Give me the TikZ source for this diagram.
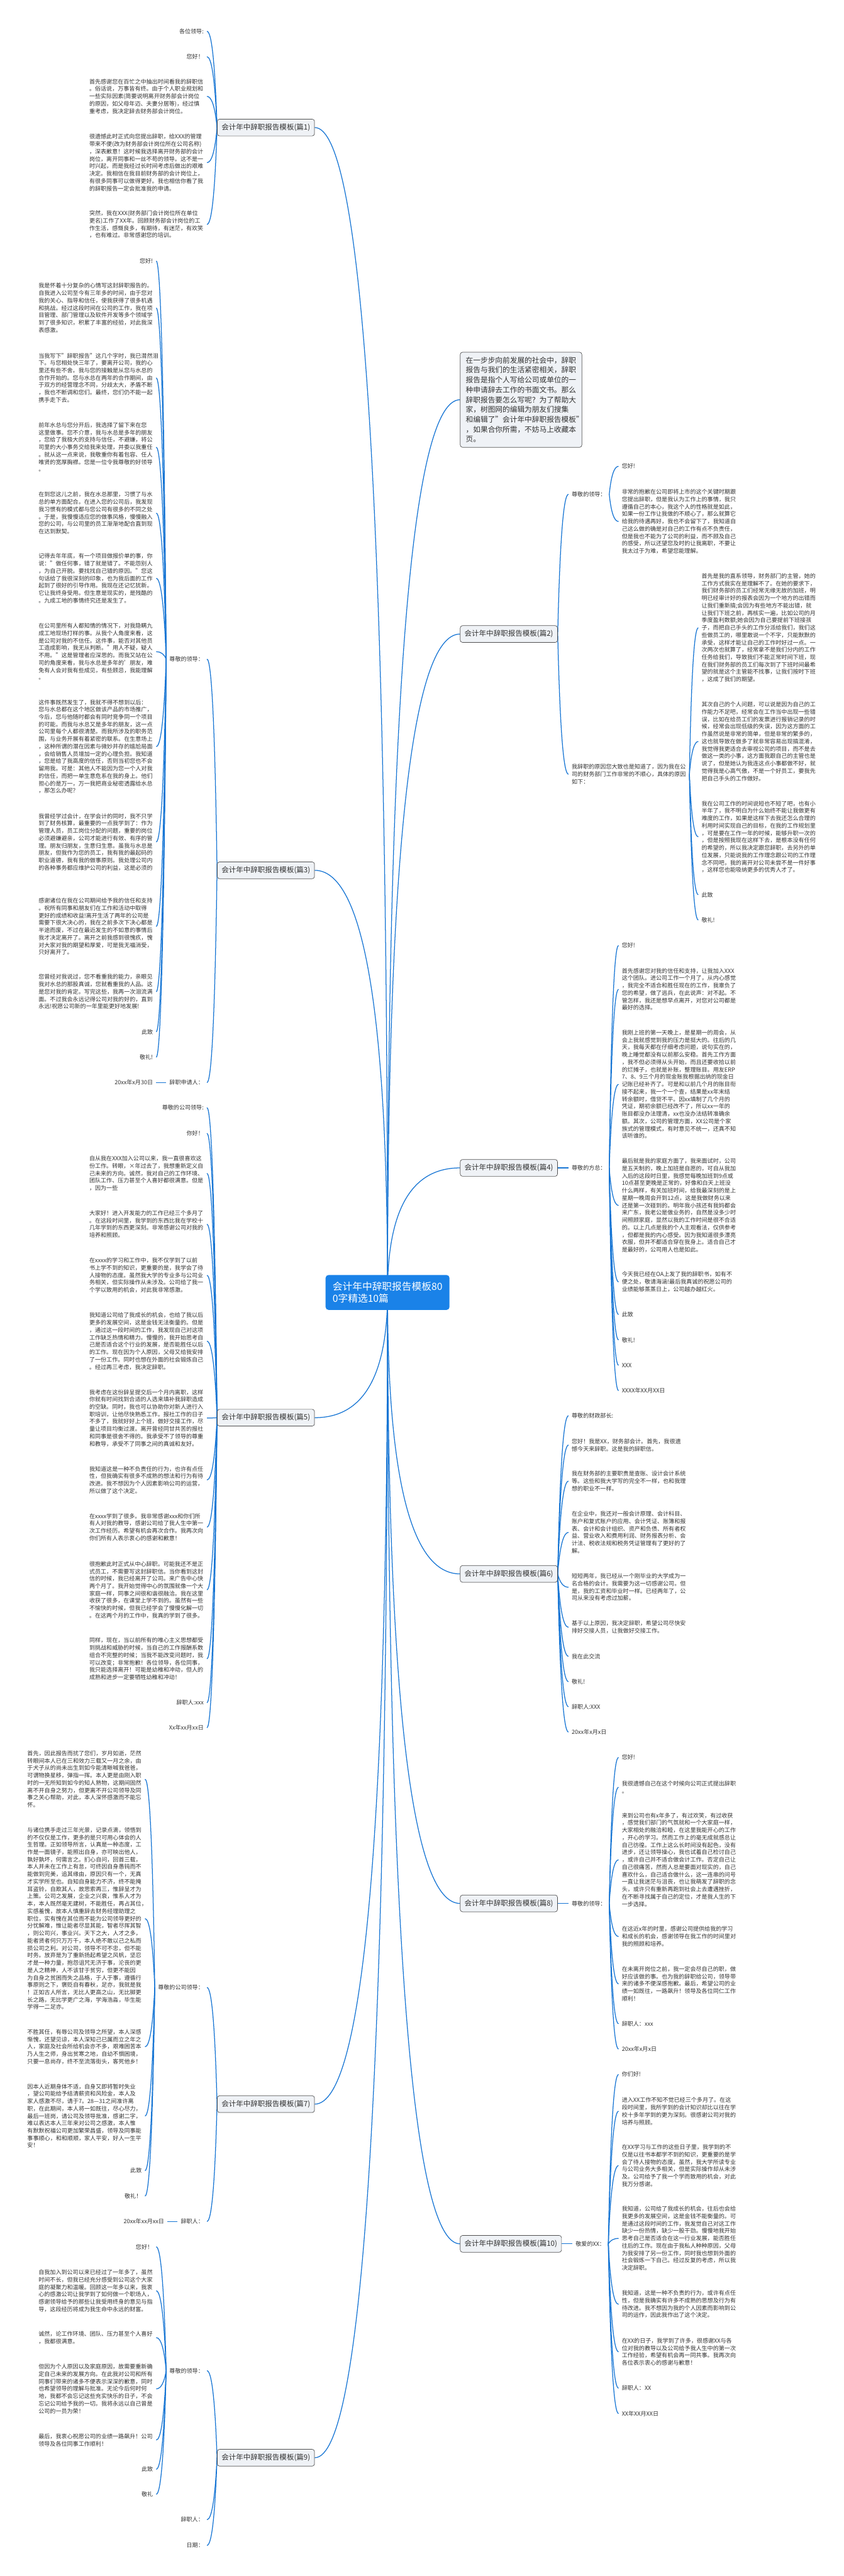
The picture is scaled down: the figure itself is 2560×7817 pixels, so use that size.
\documentclass[tikz,border=0pt]{standalone}
\usepackage{fontspec}
\setmainfont{Noto Sans CJK SC}
\usetikzlibrary{calc}
\definecolor{linkblue}{RGB}{22,117,212}
\definecolor{rootblue}{RGB}{26,130,232}
\definecolor{boxfill}{RGB}{239,242,246}
\definecolor{boxline}{RGB}{80,80,80}
\definecolor{txt}{RGB}{50,50,50}
\pgfdeclarelayer{paper}
\pgfdeclarelayer{links}
\pgfsetlayers{paper,links,main}
\newcommand\qlk[2]{\draw[conn] (#1) .. controls ($(#1)!0.667!(#1 |- #2)$) and ($(#2)!0.667!(#1 |- #2)$) .. (#2);}
\newcommand\flk[2]{\draw[conn] (#1) .. controls ($(#1)!0.667!($(#1 |- #2)!0.3!(#2)$)$) and ($(#2)!0.667!($(#1 |- #2)!0.3!(#2)$)$) .. (#2);}
\tikzset{
 conn/.style={draw=linkblue, line width=2.4pt},
 ptxt/.style={font=\fontsize{17.3}{22.4}\selectfont, text=txt, inner sep=0pt, outer xsep=10pt, outer ysep=0pt},
 lp/.style={ptxt, anchor=east, text width=347pt, align=left},
 ll/.style={ptxt, anchor=east},
 rp/.style={ptxt, anchor=west, text width=347pt, align=left},
 rl/.style={ptxt, anchor=west},
 branch/.style={draw=boxline, fill=boxfill, rounded corners=7pt, line width=1.3pt, font=\fontsize{22}{26}\selectfont, text=txt, inner xsep=13pt, minimum height=51pt},
 rootbox/.style={fill=rootblue, rounded corners=9pt, text=white, font=\fontsize{30}{37}\selectfont, align=left, minimum width=376pt, minimum height=106pt},
 intro/.style={draw=boxline, fill=boxfill, rounded corners=7pt, line width=1.3pt, font=\fontsize{22.3}{30}\selectfont, text=txt, text width=335pt, align=left, inner xsep=17pt, inner ysep=14pt},
}
\begin{document}
\begin{tikzpicture}[x=1pt,y=-1pt]
\useasboundingbox (0,0) rectangle (2560,7817);
\begin{pgfonlayer}{paper}\fill[white] (0,0) rectangle (2560,7817);\end{pgfonlayer}

\node[rootbox] (root) at (1176,3922) {会计年中辞职报告模板80\\0字精选10篇};

% ---------------- LEFT: 篇1
\node[branch, anchor=east] (L1) at (955,387) {会计年中辞职报告模板(篇1)};
\node[ll] (L1a) at (628,95) {各位领导:};
\node[ll] (L1b) at (628,172) {您好！};
\node[lp] (L1c) at (628,292.5) {首先感谢您在百忙之中抽出时间看我的辞职信\\。俗话说，万事皆有终。由于个人职业规划和\\一些实际因素(简要说明离开财务部会计岗位\\的原因，如父母年迈、夫妻分居等)，经过慎\\重考虑，我决定辞去财务部会计岗位。};
\node[lp] (L1d) at (628,493.5) {很遗憾此时正式向您提出辞职，给XXX的管理\\带来不便(改为财务部会计岗位所在公司名称)\\，深表歉意！这时候我选择离开财务部的会计\\岗位，离开同事和一丝不苟的领导。这不是一\\时兴起，而是我经过长时间考虑后做出的艰难\\决定。我相信在我目前财务部的会计岗位上，\\有很多同事可以做得更好。我也相信你看了我\\的辞职报告一定会批准我的申请。};
\node[lp] (L1e) at (628,681) {突然，我在XXX(财务部门会计岗位所在单位\\更名)工作了XX年。回顾财务部会计岗位的工\\作生活，感慨良多，有期待，有迷茫，有欢笑\\，也有难过。非常感谢您的培训。};

% ---------------- LEFT: 篇3
\node[branch, anchor=east] (L3) at (955,2641) {会计年中辞职报告模板(篇3)};
\node[ll] (L3a) at (628,2000) {尊敬的领导：};
\node[ll] (L3b) at (628,3285) {辞职申请人：};
\node[ll] (L3b1) at (474,3285) {20xx年x月30日};
\node[ll] (L3a1) at (474,792) {您好!};
\node[lp] (L3a2) at (474,934.5) {我是怀着十分复杂的心情写这封辞职报告的。\\自我进入公司至今有三年多的时间，由于您对\\我的关心、指导和信任，使我获得了很多机遇\\和挑战。经过这段时间在公司的工作，我在项\\目管理、部门管理以及软件开发等多个领域学\\到了很多知识，积累了丰富的经验，对此我深\\表感激。};
\node[lp] (L3a3) at (474,1146.5) {当我写下"辞职报告"这几个字时，我已潸然泪\\下。与您相处快三年了，要离开公司，我的心\\里还有些不舍。我与您的接触是从您与水总的\\合作开始的。您与水总在两年的合作期间，由\\于双方的经营理念不同，分歧太大，矛盾不断\\，我也不断调和您们。最终，您们仍不能一起\\携手走下去。};
\node[lp] (L3a4) at (474,1357) {前年水总与您分开后，我选择了留下来在您\\这里做事。您不介意，我与水总是多年的朋友\\，您给了我极大的支持与信任，不避嫌，将公\\司里的大小事务交给我来处理，并委以我重任\\。就从这一点来说，我敬重你有着包容、任人\\唯贤的宽厚胸襟。您是一位令我尊敬的好领导\\。};
\node[lp] (L3a5) at (474,1557) {在到您这儿之前，我在水总那里，习惯了与水\\总的单方面配合。在进入您的公司后，我发现\\我习惯有的模式都与您公司有很多的不同之处\\。于是，我慢慢适应您的做事风格，慢慢融入\\您的公司，与公司里的员工渐渐地配合直到现\\在达到默契。};
\node[lp] (L3a6) at (474,1755) {记得去年年底，有一个项目做报价单的事，你\\说："做任何事，错了就是错了。不能怨别人\\，为自己开脱。要找找自己错的原因。"您这\\句话给了我很深刻的印象，也为我后面的工作\\起到了很好的引导作用。我现在还记忆犹新。\\它让我终身受用。但生意是现实的，是残酷的\\。九成工地的事情终究还是发生了。};
\node[lp] (L3a7) at (474,1977.5) {在公司里所有人都知情的情况下，对我隐瞒九\\成工地现场打样的事。从我个人角度来看，这\\是公司对我的不信任。这件事，能否对其他员\\工造成影响，我无从判断。"用人不疑，疑人\\不用。"这是管理者应深思的。而我又站在公\\司的角度来看，我与水总是多年的'朋友，难\\免有人会对我有些成见，有些顾忌，我能理解\\。};
\node[lp] (L3a8) at (474,2265.5) {这件事既然发生了，我就不得不想到以后：\\您与水总都在这个地区做该产品的市场推广，\\今后，您与他随时都会有同时竞争同一个项目\\的可能。而我与水总又是多年的朋友，这一点\\公司里每个人都很清楚。而我所涉及的职务范\\围，与业务开展有着紧密的联系。在生意场上\\，这种所谓的潜在因素与微妙并存的尴尬局面\\，会给销售人员增加一定的心理负担。我知道\\，您是给了我高度的信任，否则当初您也不会\\留用我。可是：其他人不能因为您一个人对我\\的信任，而把一单生意危系在我的身上。他们\\担心的是万一，万一我把商业秘密透露给水总\\，那怎么办呢？};
\node[lp] (L3a9) at (474,2555) {我曾经学过会计，在学会计的同时，我不只学\\到了财务核算，最重要的一点我学到了：作为\\管理人员，员工岗位分配的问题，重要的岗位\\必须避嫌避亲，公司才能进行有效、有序的管\\理。朋友归朋友，生意归生意。虽我与水总是\\朋友，但我作为您的员工，我有我的最起码的\\职业道德，我有我的做事原则。我处理公司内\\的各种事务都应维护公司的利益，这是必须的};
\node[lp] (L3a10) at (474,2811.5) {感谢诸位在我在公司期间给予我的信任和支持\\。祝所有同事和朋友们在工作和活动中取得\\更好的成绩和收益!离开生活了两年的公司是\\需要下很大决心的，我在之前多次下决心都是\\半途而废，不过在最近发生的不如意的事情后\\我才决定离开了。离开之前我感到很愧疚，愧\\对大家对我的期望和厚爱，可是我无福消受，\\只好离开了。};
\node[lp] (L3a11) at (474,3009.5) {您曾经对我说过，您不看重我的能力，亲眼见\\我对水总的那股真诚，您就看重我的人品。这\\是您对我的肯定。写完这些，我再一次泪流满\\面。不过我会永远记得公司对我的好的，直到\\永远!祝愿公司新的一年里能更好地发展!};
\node[ll] (L3a12) at (474,3131) {此致};
\node[ll] (L3a13) at (474,3208) {敬礼!};

% ---------------- LEFT: 篇5
\node[branch, anchor=east] (L5) at (955,4302) {会计年中辞职报告模板(篇5)};
\node[ll] (L5a) at (628,3361) {尊敬的公司领导:};
\node[ll] (L5b) at (628,3439) {你好！};
\node[lp] (L5c) at (628,3560.5) {自从我在XXX加入公司以来，我一直很喜欢这\\份工作。转眼，×年过去了，我想重新定义自\\己未来的方向。诚然，我对自己的工作环境、\\团队工作、压力甚至个人喜好都很满意。但是\\，因为一些};
\node[lp] (L5d) at (628,3715) {大家好！进入开发能力的工作已经三个多月了\\。在这段时间里，我学到的东西比我在学校十\\几年学到的东西更深刻。非常感谢公司对我的\\培养和照顾。};
\node[lp] (L5e) at (628,3870) {在xxxx的学习和工作中，我不仅学到了以前\\书上学不到的知识，更重要的是，我学会了待\\人接物的态度。虽然我大学的专业多与公司业\\务相关，但实际操作从未涉及。公司给了我一\\个学以致用的机会，对此我非常感激。};
\node[lp] (L5f) at (628,4070) {我知道公司给了我成长的机会，也给了我以后\\更多的发展空间，这是金钱无法衡量的。但是\\，通过这一段时间的工作，我发现自己对这项\\工作缺乏热情和精力。慢慢的，我开始思考自\\己是否适合这个行业的发展，是否能胜任以后\\的工作。现在因为个人原因，父母又给我安排\\了一份工作。同时也想在外面的社会锻炼自己\\。经过再三考虑，我决定辞职。};
\node[lp] (L5g) at (628,4303) {我考虑在这份辞呈提交后一个月内离职，这样\\你就有时间找到合适的人选来填补我辞职造成\\的空缺。同时，我也可以协助你对新人进行入\\职培训，让他尽快熟悉工作。报社工作的日子\\不多了，我就好好上个班，做好交接工作，尽\\量让项目均衡过渡。离开曾经同甘共苦的报社\\和同事是很舍不得的。我承受不了领导的尊重\\和教导，承受不了同事之间的真诚和友好。};
\node[lp] (L5h) at (628,4491) {我知道这是一种不负责任的行为，也许有点任\\性，但我确实有很多不成熟的想法和行为有待\\改进。我不想因为个人因素影响公司的运营，\\所以做了这个决定。};
\node[lp] (L5i) at (628,4634) {在xxxx学到了很多。我非常感谢xxx和你们所\\有人对我的教导，感谢公司给了我人生中第一\\次工作经历。希望有机会再次合作。我再次向\\你们所有人表示衷心的感谢和歉意！};
\node[lp] (L5j) at (628,4824.5) {很抱歉此时正式从中心辞职。可能我还不是正\\式员工，不需要写这封辞职信。当你看到这封\\信的时候，我已经离开了公司。来广告中心快\\两个月了。我开始觉得中心的氛围就像一个大\\家庭一样，同事之间很和谐很融洽。我在这里\\收获了很多，在课堂上学不到的。虽然有一些\\不愉快的时候，但我已经学会了慢慢化解一切\\。在这两个月的工作中，我真的学到了很多。};
\node[lp] (L5k) at (628,5034) {同样，现在，当以前所有的唯心主义思想都受\\到挑战和威胁的时候，当自己的工作报酬系数\\组合不完整的时候；当我不能改变问题时，我\\可以改变；非常抱歉！各位领导，各位同事，\\我只能选择离开！可能是幼稚和冲动，但人的\\成熟和进步一定要牺牲幼稚和冲动！};
\node[ll] (L5l) at (628,5167) {辞职人:xxx};
\node[ll] (L5m) at (628,5243) {Xx年xx月xx日};

% ---------------- LEFT: 篇7
\node[branch, anchor=east] (L7) at (955,6385) {会计年中辞职报告模板(篇7)};
\node[ll] (L7a) at (628,6031) {尊敬的公司领导：};
\node[ll] (L7b) at (628,6741) {辞职人：};
\node[ll] (L7b1) at (508,6741) {20xx年xx月xx日};
\node[lp] (L7a1) at (440,5399) {首先，因此报告而扰了您们，岁月如逝，茫然\\转眼间本人已在三和效力三载又一月之余，由\\于犬子从的尚未出生到如今能清晰喊我爸爸，\\可谓物换星移，弹指一挥。本人更是由刚入职\\时的一无所知到如今的知人熟物，这期间固然\\离不开自身之努力，但更离不开公司领导及同\\事之关心帮助，对此，本人深怀感激而不能忘\\怀。};
\node[lp] (L7a2) at (440,5822) {与诸位携手走过三年光景，记录点滴，领悟到\\的不仅仅是工作，更多的是只可用心体会的人\\生哲理。正如领导所言，认真是一种态度，工\\作是一面镜子，能照出自身，亦可映出他人，\\孰好孰坏，何需言之。扪心自问，回首三载，\\本人并未在工作上有怠，可终因自身愚钝而不\\能做到完美，追其缘由，原因只有一个，无真\\才实学所至也。自知自身能力不济，终不能掩\\耳盗铃，自欺其人，故思索再三，惟辞呈才为\\上策。公司之发展，企业之兴衰，惟系人才为\\本，本人既然毫无建树，不能胜任，再占其位，\\实感羞愧，故本人慎重辞去财务经理助理之\\职位，实有愧在其位而不能为公司领导更好的\\分忧解难，惟让能者尽显其能，智者尽挥其智\\，则公司兴，事业兴。天下之大，人才之多，\\能者贤者何只万万千，本人绝不敢以己之私而\\损公司之利。对公司，领导不可不忠，但不能\\时务。放弃是为了重新扬起希望之风帆，坚忍\\才是一种力量，抱怨诅咒无济于事，沦丧的更\\是人之精神，人不该甘于贫穷，但更不能因\\为自身之贫困而失之品格，于人于事，遵循行\\事原则之下，褒贬自有春秋，足亦，我就是我\\！正如古人所言，无比人更高之山，无比脚更\\长之路，无比学更广之海，学海浩淼，毕生能\\学得一二足亦。};
\node[lp] (L7a3) at (440,6211) {不胜其任，有辱公司及领导之所望，本人深感\\惭愧，还望见谅，本人深知己已属而立之年之\\人，家庭及社会所给机会亦不多，艰难困苦本\\乃人生之师，身出贫寒之地，自幼不惧困境，\\只要一息尚存，终不至流落街头，客死他乡！};
\node[lp] (L7a4) at (440,6421) {因本人近期身体不适，自身又即将暂时失业\\，望公司能给予结清薪资和风险金，本人及\\家人感激不尽，请于7。28—31之间准许离\\职，在此期间，本人将一如既往，尽心尽力，\\最后一班岗，请公司及领导批准，感谢二字，\\难以表达本人三年来对公司之感激，本人惟\\有默默祝福公司更加繁荣昌盛，领导及同事能\\事事顺心，和和顺顺，家人平安，好人一生平\\安！};
\node[ll] (L7a5) at (440,6587) {此致};
\node[ll] (L7a6) at (440,6664) {敬礼！};

% ---------------- LEFT: 篇9
\node[branch, anchor=east] (L9) at (955,7458) {会计年中辞职报告模板(篇9)};
\node[ll] (L9a) at (628,7194) {尊敬的领导：};
\node[ll] (L9b) at (628,7646) {辞职人：};
\node[ll] (L9c) at (628,7724) {日期：};
\node[ll] (L9a1) at (474,6818) {您好！};
\node[lp] (L9a2) at (474,6951.5) {自我加入到公司以来已经过了一年多了，虽然\\时间不长，但我已经充分感受到公司这个大家\\庭的凝聚力和温暖。回顾这一年多以来，我衷\\心的感激公司让我学到了如何做一个职场人，\\感谢领导给予的那些让我受用终身的意见与指\\导，这段经历将成为我生命中永远的财富。};
\node[lp] (L9a3) at (474,7093.5) {诚然，论工作环境、团队、压力甚至个人喜好\\，我都很满意。};
\node[lp] (L9a4) at (474,7249) {但因为个人原因以及家庭原因，故需要重新确\\定自己未来的发展方向。在此我对公司和所有\\同事们带来的诸多不便表示深深的歉意，同时\\也希望领导的理解与批准。无论今后何时何\\地，我都不会忘记这些充实快乐的日子，不会\\忘记公司给予我的一切。我将永远以自己曾是\\公司的一员为荣！};
\node[lp] (L9a5) at (474,7404.5) {最后，我衷心祝愿公司的业绩一路飙升！公司\\领导及各位同事工作顺利！};
\node[ll] (L9a6) at (474,7493) {此致};
\node[ll] (L9a7) at (474,7569) {敬礼};

% ---------------- RIGHT: intro
\node[intro, anchor=south west] (I0) at (1396,1358) {在一步步向前发展的社会中，辞职\\报告与我们的生活紧密相关，辞职\\报告是指个人写给公司或单位的一\\种申请辞去工作的书面文书。那么\\辞职报告要怎么写呢？为了帮助大\\家，树图网的编辑为朋友们搜集\\和编辑了"会计年中辞职报告模板"\\，如果合你所需，不妨马上收藏本\\页。};

% ---------------- RIGHT: 篇2
\node[branch, anchor=west] (R2) at (1396,1924) {会计年中辞职报告模板(篇2)};
\node[rl] (R2a) at (1725,1500) {尊敬的领导：};
\node[rl] (R2a1) at (1877,1415) {您好!};
\node[rp] (R2a2) at (1877,1582.5) {非常的抱歉在公司即将上市的这个关键时期跟\\您提出辞职，但是我认为工作上的事情，我只\\遵循自己的本心，我这个人的性格就是如此，\\如果一份工作让我做的不顺心了，那么就算它\\给我的待遇再好，我也不会留下了，我知道自\\己这么做的确是对自己的工作有点不负责任，\\但是我也不能为了公司的利益，而不顾及自己\\的感受，所以还望您及时的让我离职，不要让\\我太过于为难，希望您能理解。};
\node[rp] (R2b) at (1725,2349.5) {我辞职的原因您大致也是知道了，因为我在公\\司的财务部门工作非常的不顺心，具体的原因\\如下：};
\node[rp] (R2b1) at (2119,1905) {首先是我的直系领导，财务部门的主管，她的\\工作方式我实在是理解不了。在她的要求下，\\我们财务部的员工们经常无缘无故的加班，明\\明已经审计好的报表会因为一个地方的出错而\\让我们重新搞;会因为有些地方不能出错，就\\让我们下班之前，再核实一遍，比如公司的月\\季度盈利数额;她会因为自己要提前下班接孩\\子，而把自己手头的工作分派给我们，我们这\\些做员工的，哪里敢说一个不字，只能默默的\\承受，这样才能让自己的工作时好过一点。一\\次两次也就算了，经常拿不是我们分内的工作\\任务给我们，导致我们不能正常时间下班，现\\在我们财务部的员工们每次到了下班时间最希\\望的就是这个主管能不找事，让我们按时下班\\，这成了我们的期望。};
\node[rp] (R2b2) at (2119,2250) {其次自己的个人问题，可以说是因为自己的工\\作能力不足吧，经常会在工作当中出现一些错\\误，比如在给员工们的发票进行报销记录的时\\候，经常会出现低级的失误，因为这方面的工\\作虽然说是非常的简单，但是非常的繁多的，\\这也就导致在做多了就非常容易出现搞混淆，\\我觉得我更适合去审视公司的项目，而不是去\\做这一类的小事，这方面我跟自己的主管也是\\说了，但是她认为我连这点小事都做不好，就\\觉得我是心高气傲，不是一个好员工，要我先\\把自己手头的工作做好。};
\node[rp] (R2b3) at (2119,2539.5) {我在公司工作的时间说短也不短了吧，也有小\\半年了，我不明白为什么始终不能让我做更有\\难度的工作，如果是这样下去我还怎么合理的\\利用时间实现自己的目标，在我的工作规划里\\，可是要在工作一年的时候，能够升职一次的\\，但是按照我现在这样下去，是根本没有任何\\的希望的，所以我决定跟您辞职，去另外的单\\位发展，只能说我的工作理念跟公司的工作理\\念不同吧，我的离开对公司未尝不是一件好事\\，这样您也能吸纳更多的优秀人才了。};
\node[rl] (R2b4) at (2119,2715) {此致};
\node[rl] (R2b5) at (2119,2792) {敬礼!};

% ---------------- RIGHT: 篇4
\node[branch, anchor=west] (R4) at (1396,3544) {会计年中辞职报告模板(篇4)};
\node[rl] (R4a) at (1725,3544) {尊敬的方总：};
\node[rl] (R4a1) at (1877,2869) {您好!};
\node[rp] (R4a2) at (1877,3002) {首先感谢您对我的信任和支持，让我加入XXX\\这个团队。进公司工作一个月了，从内心感觉\\，我完全不适合和胜任现在的工作，我辜负了\\您的希望，做了逃兵，在此说声：对不起。不\\管怎样，我还是想早点离开，对您对公司都是\\最好的选择。};
\node[rp] (R4a3) at (1877,3290.5) {我刚上班的第一天晚上，是星期一的周会，从\\会上我就感觉到我的压力是挺大的。往后的几\\天，我每天都在仔细考虑问题，说句实在的，\\晚上睡觉都没有以前那么安稳。首先工作方面\\，我不但必须得从头开始，而且还要收拾以前\\的烂摊子，也就是补账，整理账目。用友ERP\\7、8、9三个月的现金账我根据出纳的现金日\\记账已经补齐了。可是和以前几个月的账目衔\\接不起来，我一个一个查，结果是xx年末结\\转余额时，借贷不平。因xx填制了几个月的\\凭证，期初余额已经改不了，所以xx一年的\\账目都没办法理清，xx也没办法结转准确余\\额。其次，公司的管理方面，XX公司是个家\\族式的管理模式，有时意见不统一，还真不知\\该听谁的。};
\node[rp] (R4a4) at (1877,3658) {最后就是我的家庭方面了，我来面试时，公司\\是五天制的，晚上加班是自愿的，可自从我加\\入后的这段时日里，我感觉每晚加班到9点或\\10点甚至更晚是正常的，好像和白天上班没\\什么两样，有关加班时间，给我最深刻的是上\\星期一晚周会开到12点，这是我做财务以来\\还是第一次碰到的。明年我小孩还有我妈都会\\来广东，我老公是做业务的，自然是没多少时\\间照顾家庭，显然以我的工作时间是很不合适\\的。以上几点是我的个人主观看法，仅供参考\\，但都是我的内心感受。因为我知道很多漂亮\\衣服，但并不都适合穿在我身上。适合自己才\\是最好的，公司用人也是如此。};
\node[rp] (R4a5) at (1877,3890) {今天我已经在OA上发了我的辞职书，如有不\\便之处，敬请海涵!最后我真诚的祝愿公司的\\业绩能够蒸蒸日上，公司越办越红火。};
\node[rl] (R4a6) at (1877,3989) {此致};
\node[rl] (R4a7) at (1877,4066) {敬礼!};
\node[rl] (R4a8) at (1877,4143) {XXX};
\node[rl] (R4a9) at (1877,4220) {XXXX年XX月XX日};

% ---------------- RIGHT: 篇6
\node[branch, anchor=west] (R6) at (1396,4776) {会计年中辞职报告模板(篇6)};
\node[rl] (R6a) at (1725,4296) {尊敬的财政部长:};
\node[rp] (R6b) at (1725,4385) {您好！我是XX，财务部会计。首先，我很遗\\憾今天来辞职。这是我的辞职信。};
\node[rp] (R6c) at (1725,4494.5) {我在财务部的主要职责是查账、设计会计系统\\等。这些和我大学写的完全不一样，也和我理\\想的职业不一样。};
\node[rp] (R6d) at (1725,4650) {在企业中，我还对一般会计原理、会计科目、\\账户和复式账户的应用、会计凭证、账簿和报\\表、会计和会计组织、资产和负债、所有者权\\益、营业收入和费用利润、财务报表分析、会\\计法、税收法规和税务凭证管理有了更好的了\\解。};
\node[rp] (R6e) at (1725,4816.5) {短短两年，我已经从一个刚毕业的大学成为一\\名合格的会计。我需要为这一切感谢公司。但\\是，我的工资和毕业时一样。已经两年了，公\\司从来没有考虑过加薪。};
\node[rp] (R6f) at (1725,4938) {基于以上原因，我决定辞职，希望公司尽快安\\排好交接人员，让我做好交接工作。};
\node[rl] (R6g) at (1725,5026) {我在此交流};
\node[rl] (R6h) at (1725,5103) {敬礼!};
\node[rl] (R6i) at (1725,5179) {辞职人:XXX};
\node[rl] (R6j) at (1725,5256) {20xx年x月x日};

% ---------------- RIGHT: 篇8
\node[branch, anchor=west] (R8) at (1396,5776) {会计年中辞职报告模板(篇8)};
\node[rl] (R8a) at (1725,5776) {尊敬的领导：};
\node[rl] (R8a1) at (1877,5333) {您好!};
\node[rp] (R8a2) at (1877,5423.5) {我很遗憾自己在这个时候向公司正式提出辞职\\。};
\node[rp] (R8a3) at (1877,5643.5) {来到公司也有x年多了，有过欢笑，有过收获\\，感觉我们部门的气氛就和一个大家庭一样，\\大家相处的融洽和睦，在这里我能开心的工作\\，开心的学习。然而工作上的毫无成就感总让\\自己彷徨。工作上这么长时间没有起色，没有\\进步，还让领导操心，我也试着自己检讨自己\\，或许自己并不适合做会计工作。否定自己让\\自己很痛苦，然而人总是要面对现实的，自己\\喜欢什么，自己适合做什么，这一连串的问号\\一直让我迷茫与沮丧，也让我萌发了辞职的念\\头，或许只有重新再跑到社会上去遭遇挫折，\\在不断寻找属于自己的定位，才是我人生的下\\一步选择。};
\node[rp] (R8a4) at (1877,5876.5) {在这近x年的时里，感谢公司提供给我的学习\\和成长的机会，感谢领导在我工作的时间里对\\我的照顾和培养。};
\node[rp] (R8a5) at (1877,6020) {在未离开岗位之前，我一定会尽自己的职，做\\好应该做的事。也为我的辞职给公司，领导带\\来的诸多不便深感抱歉。最后，希望公司的业\\绩一如既往，一路飙升！领导及各位同仁工作\\顺利！};
\node[rl] (R8a6) at (1877,6141) {辞职人：xxx};
\node[rl] (R8a7) at (1877,6218) {20xx年x月x日};

% ---------------- RIGHT: 篇10
\node[branch, anchor=west] (R10) at (1396,6809) {会计年中辞职报告模板(篇10)};
\node[rl] (R10a) at (1737,6809) {敬爱的XX：};
\node[rl] (R10a1) at (1877,6295) {你们好!};
\node[rp] (R10a2) at (1877,6406.5) {进入XX工作不知不觉已经三个多月了。在这\\段时间里，我所学到的会计知识却比以往在学\\校十多年学到的更为深刻。很感谢公司对我的\\培养与照顾。};
\node[rp] (R10a3) at (1877,6571.5) {在XX学习与工作的这些日子里，我学到的不\\仅是以往书本都学不到的知识，更重要的是学\\会了待人接物的态度。虽然，我大学所读专业\\与公司业务大多相关，但是实际操作却从未涉\\及。公司给予了我一个学而致用的机会，对此\\我万分感谢。};
\node[rp] (R10a4) at (1877,6792.5) {我知道，公司给了我成长的机会，往后也会给\\我更多的发展空间，这是金钱不能衡量的。可\\是通过这段时间的工作，我发觉自己对这工作\\缺少一份热情，缺少一股干劲。慢慢地我开始\\思考自己是否适合在这一行业发展，能否胜任\\往后的工作。现在由于我私人种种原因，父母\\为我安排了另一份工作，同时我也想到外面的\\社会锻炼一下自己。经过反复的考虑，所以我\\决定辞职。};
\node[rp] (R10a5) at (1877,6992.5) {我知道，这是一种不负责的行为，或许有点任\\性，但是我确实有许多不成熟的思想及行为有\\待改进。我不想因为我的个人因素而影响到公\\司的运作，因此我作出了这个决定。};
\node[rp] (R10a6) at (1877,7136.5) {在XX的日子，我学到了许多，很感谢XX与各\\位对我的教导以及公司给予我人生中的第一次\\工作经验，希望有机会再一同共事。我再次向\\各位表示衷心的感谢与歉意！};
\node[rl] (R10a7) at (1877,7247) {辞职人：XX};
\node[rl] (R10a8) at (1877,7324) {XX年XX月XX日};

% ---------------- connectors
\begin{pgfonlayer}{links}
\foreach \b in {L1,L3,L5,L7,L9} {\qlk{root.center}{\b.east}}
\foreach \b in {I0,R2,R4,R6,R8,R10} {\qlk{root.center}{\b.west}}
\foreach \c in {L1a,L1b,L1c,L1d,L1e} {\flk{L1.west}{\c.east}}
\foreach \c in {L3a,L3b} {\flk{L3.west}{\c.east}}
\foreach \c in {L3a1,L3a2,L3a3,L3a4,L3a5,L3a6,L3a7,L3a8,L3a9,L3a10,L3a11,L3a12,L3a13} {\flk{L3a.west}{\c.east}}
\flk{L3b.west}{L3b1.east}
\foreach \c in {L5a,L5b,L5c,L5d,L5e,L5f,L5g,L5h,L5i,L5j,L5k,L5l,L5m} {\flk{L5.west}{\c.east}}
\foreach \c in {L7a,L7b} {\flk{L7.west}{\c.east}}
\foreach \c in {L7a1,L7a2,L7a3,L7a4,L7a5,L7a6} {\flk{L7a.west}{\c.east}}
\flk{L7b.west}{L7b1.east}
\foreach \c in {L9a,L9b,L9c} {\flk{L9.west}{\c.east}}
\foreach \c in {L9a1,L9a2,L9a3,L9a4,L9a5,L9a6,L9a7} {\flk{L9a.west}{\c.east}}
\foreach \c in {R2a,R2b} {\flk{R2.east}{\c.west}}
\foreach \c in {R2a1,R2a2} {\flk{R2a.east}{\c.west}}
\foreach \c in {R2b1,R2b2,R2b3,R2b4,R2b5} {\flk{R2b.east}{\c.west}}
\flk{R4.east}{R4a.west}
\foreach \c in {R4a1,R4a2,R4a3,R4a4,R4a5,R4a6,R4a7,R4a8,R4a9} {\flk{R4a.east}{\c.west}}
\foreach \c in {R6a,R6b,R6c,R6d,R6e,R6f,R6g,R6h,R6i,R6j} {\flk{R6.east}{\c.west}}
\flk{R8.east}{R8a.west}
\foreach \c in {R8a1,R8a2,R8a3,R8a4,R8a5,R8a6,R8a7} {\flk{R8a.east}{\c.west}}
\flk{R10.east}{R10a.west}
\foreach \c in {R10a1,R10a2,R10a3,R10a4,R10a5,R10a6,R10a7,R10a8} {\flk{R10a.east}{\c.west}}
\end{pgfonlayer}
\end{tikzpicture}
\end{document}
